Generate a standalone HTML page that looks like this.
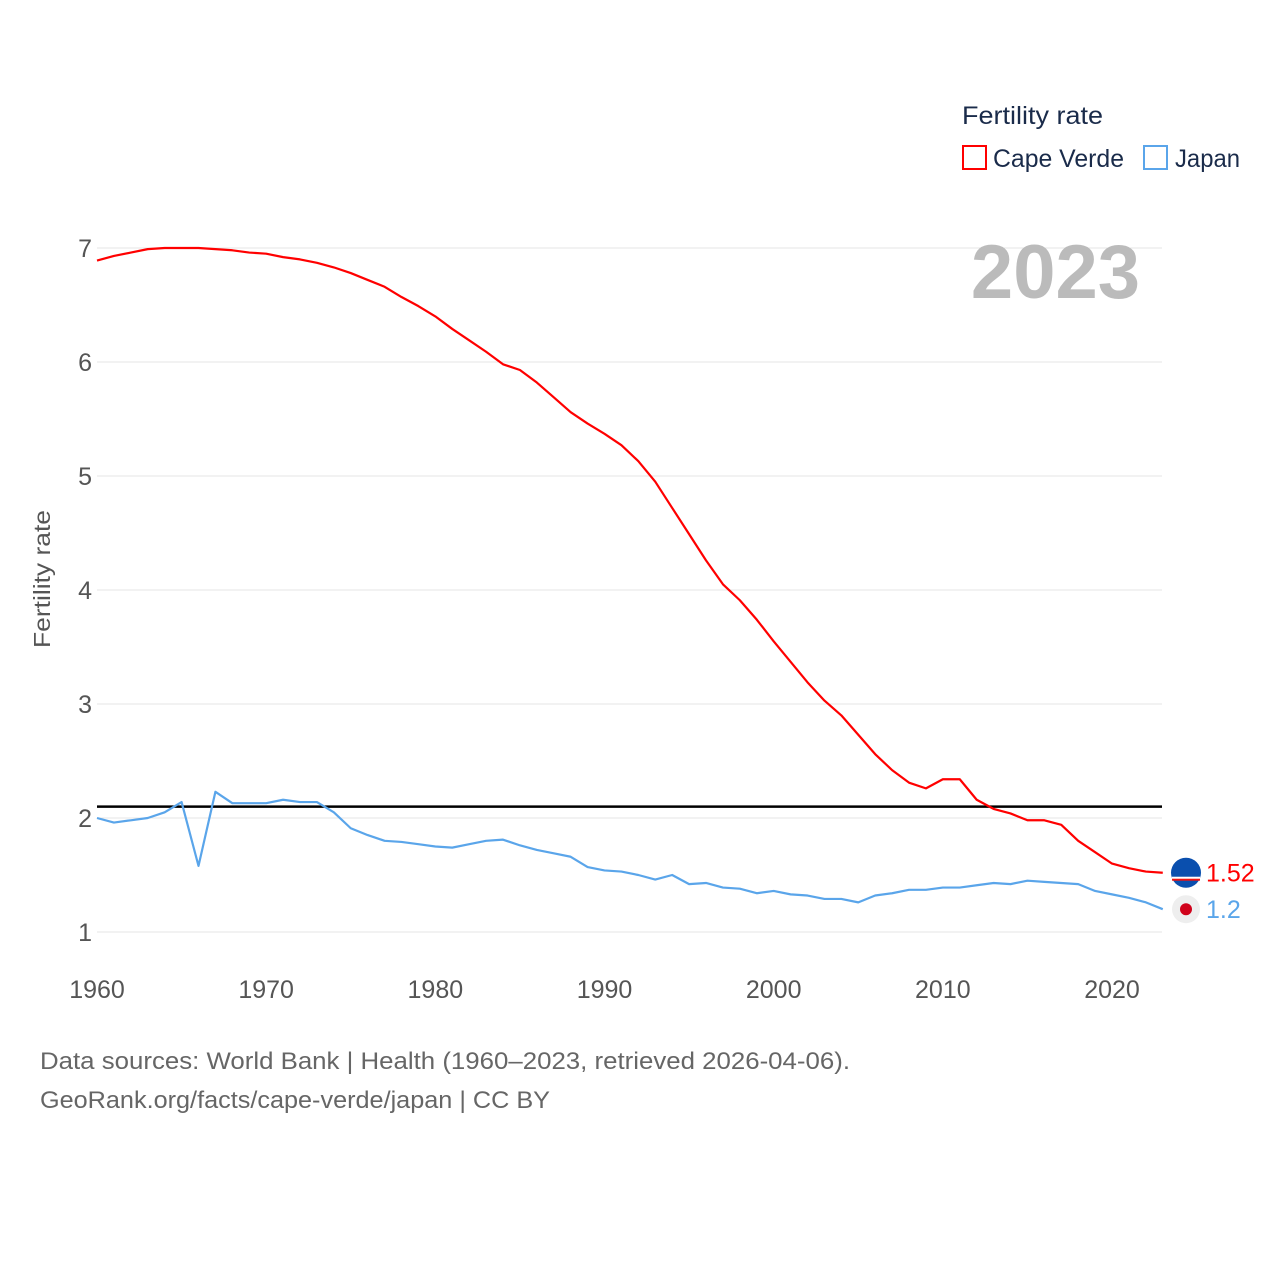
<!DOCTYPE html>
<html><head><meta charset="utf-8"><style>
body{margin:0;background:#fff;font-family:"Liberation Sans",sans-serif}
svg text{font-family:"Liberation Sans",sans-serif}
</style></head><body>
<svg id="chart" width="1280" height="1280" viewBox="0 0 1280 1280">
<g id="grid"></g>
<g id="yticks"></g>
<g id="xticks"></g>
<text x="50" y="579" transform="rotate(-90 50 579)" text-anchor="middle" font-size="23" textLength="138" lengthAdjust="spacingAndGlyphs" fill="#555">Fertility rate</text>
<text x="1140" y="298" text-anchor="end" font-size="76" font-weight="bold" fill="#bbb">2023</text>
<g>
<text x="962" y="124" font-size="25" textLength="141" lengthAdjust="spacingAndGlyphs" fill="#1a2b4a">Fertility rate</text>
<g><rect x="963" y="146" width="23" height="23" fill="none" stroke="#f00" stroke-width="2"/><text x="993" y="167" font-size="25" textLength="131" lengthAdjust="spacingAndGlyphs" fill="#1a2b4a">Cape Verde</text></g>
<g><rect x="1144" y="146" width="23" height="23" fill="none" stroke="#5aa5ea" stroke-width="2"/><text x="1175" y="167" font-size="25" textLength="65" lengthAdjust="spacingAndGlyphs" fill="#1a2b4a">Japan</text></g>
</g>
<g id="series"></g>
<text x="40" y="1069" font-size="24" textLength="810" lengthAdjust="spacingAndGlyphs" fill="#666">Data sources: World Bank | Health (1960–2023, retrieved 2026-04-06).</text>
<text x="40" y="1108" font-size="24" textLength="510" lengthAdjust="spacingAndGlyphs" fill="#666">GeoRank.org/facts/cape-verde/japan | CC BY</text>
</svg>
<script>
const years = Array.from({length:64},(_,i)=>1960+i);
const capeVerde = [6.89,6.93,6.96,6.99,7.0,7.0,7.0,6.99,6.98,6.96,6.95,6.92,6.9,6.87,6.83,6.78,6.72,6.66,6.57,6.49,6.4,6.29,6.19,6.09,5.98,5.93,5.82,5.69,5.56,5.46,5.37,5.27,5.13,4.95,4.72,4.49,4.26,4.05,3.91,3.74,3.55,3.37,3.19,3.03,2.9,2.73,2.56,2.42,2.31,2.26,2.34,2.34,2.16,2.08,2.04,1.98,1.98,1.94,1.8,1.7,1.6,1.56,1.53,1.52];
const japan = [2.0,1.96,1.98,2.0,2.05,2.14,1.58,2.23,2.13,2.13,2.13,2.16,2.14,2.14,2.05,1.91,1.85,1.80,1.79,1.77,1.75,1.74,1.77,1.80,1.81,1.76,1.72,1.69,1.66,1.57,1.54,1.53,1.50,1.46,1.50,1.42,1.43,1.39,1.38,1.34,1.36,1.33,1.32,1.29,1.29,1.26,1.32,1.34,1.37,1.37,1.39,1.39,1.41,1.43,1.42,1.45,1.44,1.43,1.42,1.36,1.33,1.30,1.26,1.20];
const yTicks = [1,2,3,4,5,6,7];
const xTicks = [1960,1970,1980,1990,2000,2010,2020];
const replacement = 2.1;
const X = y => 97 + (y-1960)*16.917;
const Y = v => 932 - (v-1)*114;
const NS="http://www.w3.org/2000/svg";
function mk(tag, attrs, parent){const e=document.createElementNS(NS,tag);for(const k in attrs)e.setAttribute(k,attrs[k]);parent.appendChild(e);return e;}
const grid=document.getElementById('grid'), yt=document.getElementById('yticks'), xt=document.getElementById('xticks'), ser=document.getElementById('series');
yTicks.forEach(v=>{
  const l=mk('line',{x1:97,x2:1162,y1:Y(v),y2:Y(v),stroke:'#e6e6e6','stroke-width':1},grid);
  
  
  const t=mk('text',{x:92,y:Y(v)+9,'text-anchor':'end','font-size':25,fill:'#555'},yt);
  t.textContent=v;
  
  
});
xTicks.forEach(v=>{
  const t=mk('text',{x:X(v),y:998,'text-anchor':'middle','font-size':25,fill:'#555'},xt);
  t.textContent=v;
  
  
});
const rl=mk('line',{x1:97,x2:1162,y1:Y(replacement),y2:Y(replacement),stroke:'#000','stroke-width':2.5},ser);


function line(vals,color,name){
  const p=mk('polyline',{points:vals.map((v,i)=>X(years[i])+','+Y(v)).join(' '),fill:'none',stroke:color,'stroke-width':2.2,'stroke-linejoin':'round'},ser);
  
  
}
line(japan,'#5aa5ea','japan-line');
line(capeVerde,'#f00','cape-verde-line');
const lastCV=capeVerde[capeVerde.length-1], lastJP=japan[japan.length-1];
const g1=mk('g',{},ser);


mk('circle',{cx:1186,cy:Y(lastCV),r:15,fill:'#0a4fae'},g1);
mk('rect',{x:1172,y:Y(lastCV)+4,width:28,height:3,fill:'#fff'},g1);
mk('rect',{x:1172,y:Y(lastCV)+6,width:28,height:2,fill:'#e11'},g1);
const t1=mk('text',{x:1206,y:Y(lastCV)+9,'font-size':25,fill:'#f00'},g1);t1.textContent=lastCV;
const g2=mk('g',{},ser);


mk('circle',{cx:1186,cy:Y(lastJP),r:14,fill:'#eee'},g2);
mk('circle',{cx:1186,cy:Y(lastJP),r:6,fill:'#d0021b'},g2);
const t2=mk('text',{x:1206,y:Y(lastJP)+9,'font-size':25,fill:'#5aa5ea'},g2);t2.textContent=lastJP;
</script>
</body></html>
